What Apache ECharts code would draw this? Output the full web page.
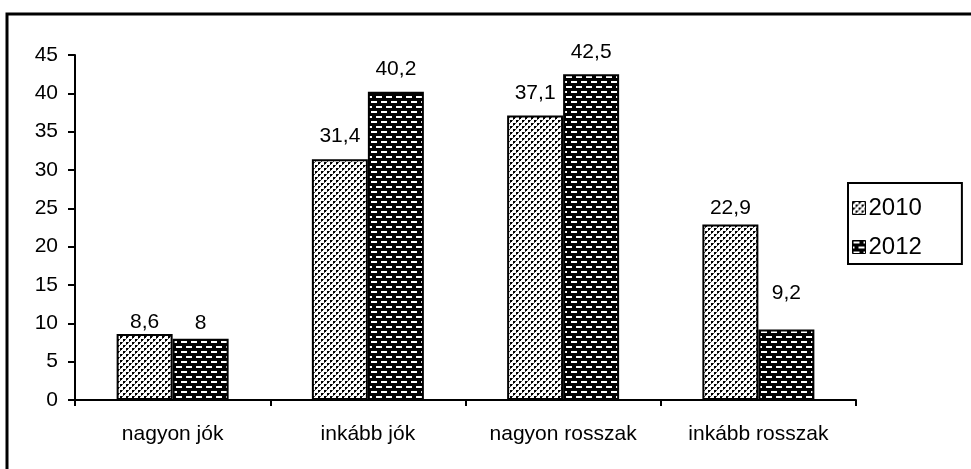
<!DOCTYPE html>
<html>
<head>
<meta charset="utf-8">
<script src="https://cdn.jsdelivr.net/npm/echarts@6/dist/echarts.min.js"></script>
<style>
html, body { margin: 0; padding: 0; background: #fff; }
#main { width: 971px; height: 469px; }
</style>
</head>
<body>
<div id="main"></div>
<script>
var categories = ['nagyon jók', 'inkább jók', 'nagyon rosszak', 'inkább rosszak'];
var seriesNames = ['2010', '2012'];
var values2010 = [8.6, 31.4, 37.1, 22.9];
var values2012 = [8, 40.2, 42.5, 9.2];

// label distance above each bar (the original has hand-placed labels)
var labelDist2010 = [1, 13, 12, 6];
var labelDist2012 = [5, 12, 11, 26];

// dotted pattern for 2010
function dotPattern() {
	var c = document.createElement('canvas');
	c.width = 6; c.height = 6;
	var ctx = c.getContext('2d');
	ctx.fillStyle = '#fff';
	ctx.fillRect(0, 0, 6, 6);
	ctx.fillStyle = '#000';
	ctx.fillRect(0, 0, 2, 2);
	ctx.fillRect(3, 3, 2, 2);
	ctx.fillStyle = '#444';
	ctx.fillRect(2, 0, 1, 1);
	ctx.fillRect(0, 2, 1, 1);
	ctx.fillRect(5, 3, 1, 1);
	ctx.fillRect(3, 5, 1, 1);
	return c;
}

// black with white dashes for 2012
function dashPattern() {
	var c = document.createElement('canvas');
	c.width = 10; c.height = 10;
	var ctx = c.getContext('2d');
	ctx.fillStyle = '#000';
	ctx.fillRect(0, 0, 10, 10);
	ctx.fillStyle = '#fff';
	ctx.fillRect(1, 1, 6, 2);
	ctx.fillRect(6, 6, 6, 2);
	ctx.fillRect(-4, 6, 6, 2);
	return c;
}

function fmt(p) {
	return String(p.value).replace('.', ',');
}

function withLabels(vals, dists) {
	return vals.map(function (v, i) {
		return { value: v, label: { distance: dists[i] } };
	});
}

var font = 'Liberation Sans, Arial, sans-serif';

var chart = echarts.init(document.getElementById('main'));
chart.setOption({
	animation: false,
	backgroundColor: '#fff',
	graphic: [{
		type: 'rect',
		shape: { x: 7, y: 14, width: 1100, height: 600 },
		style: { fill: 'none', stroke: '#000', lineWidth: 3 },
		silent: true
	}],
	grid: { left: 75, right: 115, top: 55, bottom: 69 },
	legend: {
		orient: 'vertical',
		left: 848,
		top: 183,
		padding: [13, 40, 5, 4],
		itemGap: 15,
		itemWidth: 13,
		itemHeight: 13,
		borderColor: '#000',
		borderWidth: 2,
		icon: 'rect',
		itemStyle: { borderWidth: 1 },
		textStyle: { fontFamily: font, fontSize: 24, color: '#000', padding: [0, 0, 0, -2] },
		data: seriesNames
	},
	xAxis: {
		type: 'category',
		data: categories,
		axisLine: { lineStyle: { color: '#000', width: 2 } },
		axisTick: { show: true, length: 6, lineStyle: { color: '#000', width: 2 } },
		axisLabel: { margin: 24, fontFamily: font, fontSize: 21, color: '#000' }
	},
	yAxis: {
		type: 'value',
		min: 0,
		max: 45,
		interval: 5,
		splitLine: { show: false },
		axisLine: { show: true, lineStyle: { color: '#000', width: 2 } },
		axisTick: { show: true, length: 7, lineStyle: { color: '#000', width: 2 } },
		axisLabel: { margin: 17, fontFamily: font, fontSize: 21, color: '#000' }
	},
	series: [{
		name: seriesNames[0],
		type: 'bar',
		data: withLabels(values2010, labelDist2010),
		barWidth: 56,
		barGap: '0%',
		itemStyle: {
			color: { image: dotPattern(), repeat: 'repeat' },
			borderColor: '#000',
			borderWidth: 2
		},
		label: { show: true, position: 'top', formatter: fmt,
			fontFamily: font, fontSize: 21, color: '#000' }
	}, {
		name: seriesNames[1],
		type: 'bar',
		data: withLabels(values2012, labelDist2012),
		barWidth: 56,
		barGap: '0%',
		itemStyle: {
			color: { image: dashPattern(), repeat: 'repeat' },
			borderColor: '#000',
			borderWidth: 2
		},
		label: { show: true, position: 'top', formatter: fmt,
			fontFamily: font, fontSize: 21, color: '#000' }
	}]
});
</script>
</body>
</html>
